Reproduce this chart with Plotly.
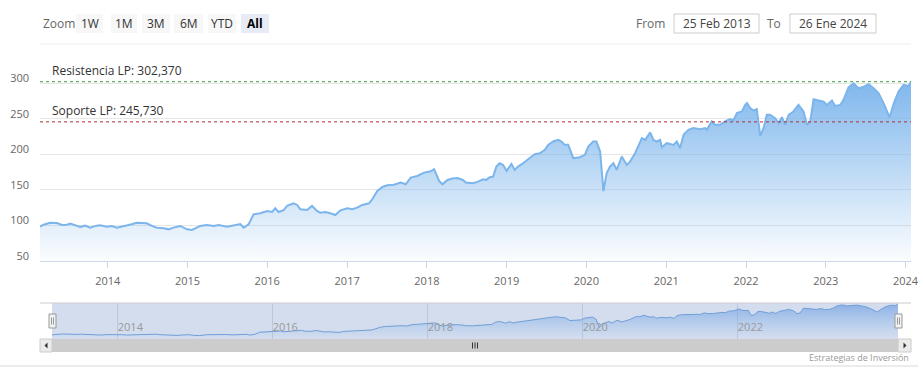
import plotly.graph_objects as go

# ---------------- data ----------------
dates = [
    "2013-02-25", "2013-03-13", "2013-04-12", "2013-05-13", "2013-06-05", "2013-06-28",
    "2013-07-13", "2013-08-05", "2013-08-28", "2013-09-20", "2013-10-12", "2013-11-12",
    "2013-11-27", "2013-12-28", "2014-01-20", "2014-02-12", "2014-03-07", "2014-03-30",
    "2014-04-21", "2014-05-14", "2014-05-30", "2014-06-29", "2014-07-22", "2014-08-14",
    "2014-09-14", "2014-10-07", "2014-10-29", "2014-11-29", "2014-12-30", "2015-01-22",
    "2015-02-28", "2015-03-31", "2015-05-01", "2015-05-23", "2015-07-01", "2015-07-31",
    "2015-08-31", "2015-09-15", "2015-10-08", "2015-10-31", "2015-11-30", "2016-01-01",
    "2016-01-23", "2016-02-07", "2016-02-22", "2016-03-16", "2016-04-01", "2016-05-01",
    "2016-05-17", "2016-06-01", "2016-07-01", "2016-07-24", "2016-08-16", "2016-08-31",
    "2016-09-23", "2016-10-16", "2016-11-08", "2016-12-01", "2017-01-02", "2017-01-24",
    "2017-02-16", "2017-03-11", "2017-04-11", "2017-04-26", "2017-05-19", "2017-06-11",
    "2017-07-04", "2017-08-03", "2017-09-03", "2017-09-26", "2017-10-19", "2017-11-18",
    "2017-12-19", "2018-01-18", "2018-02-03", "2018-02-26", "2018-03-13", "2018-04-05",
    "2018-04-28", "2018-05-21", "2018-06-15", "2018-06-28", "2018-07-31", "2018-08-23",
    "2018-09-15", "2018-09-30", "2018-10-16", "2018-10-31", "2018-11-15", "2018-11-30",
    "2018-12-16", "2019-01-01", "2019-01-23", "2019-02-07", "2019-02-22", "2019-03-17",
    "2019-04-17", "2019-05-10", "2019-06-02", "2019-06-25", "2019-07-10", "2019-08-02",
    "2019-08-25", "2019-09-09", "2019-09-24", "2019-10-10", "2019-11-02", "2019-12-02",
    "2019-12-25", "2020-01-10", "2020-02-01", "2020-02-16", "2020-03-04", "2020-03-19",
    "2020-04-03", "2020-04-18", "2020-05-04", "2020-05-19", "2020-06-11", "2020-07-04",
    "2020-07-19", "2020-08-11", "2020-09-11", "2020-09-26", "2020-10-19", "2020-11-03",
    "2020-11-18", "2020-12-04", "2020-12-11", "2021-01-03", "2021-02-03", "2021-02-18",
    "2021-03-05", "2021-03-21", "2021-04-12", "2021-05-05", "2021-06-05", "2021-06-28",
    "2021-07-05", "2021-07-28", "2021-08-12", "2021-09-04", "2021-09-27", "2021-10-20",
    "2021-11-04", "2021-11-20", "2021-12-13", "2021-12-28", "2022-01-05", "2022-01-20",
    "2022-02-04", "2022-02-19", "2022-03-07", "2022-03-22", "2022-04-06", "2022-04-21",
    "2022-05-14", "2022-05-30", "2022-06-14", "2022-06-29", "2022-07-15", "2022-08-06",
    "2022-08-29", "2022-09-21", "2022-10-07", "2022-10-22", "2022-11-06", "2022-11-29",
    "2022-12-22", "2023-01-06", "2023-01-29", "2023-02-13", "2023-03-08", "2023-03-23",
    "2023-04-15", "2023-05-08", "2023-05-31", "2023-06-23", "2023-07-16", "2023-08-08",
    "2023-08-31", "2023-09-23", "2023-10-20", "2023-11-08", "2023-11-30", "2023-12-23",
    "2024-01-15", "2024-01-26",
]
values = [
    98.0, 100.8, 103.6, 103.1, 100.3, 100.8,
    102.2, 100.3, 97.5, 99.4, 96.6, 99.4,
    99.9, 98.0, 99.0, 96.6, 98.0, 99.0,
    101.3, 103.6, 103.6, 102.7, 99.0, 96.6,
    95.7, 94.2, 96.6, 99.0, 94.2, 93.3,
    99.0, 100.3, 99.0, 100.3, 98.0, 99.9,
    101.7, 96.6, 101.3, 115.4, 116.8, 120.1,
    118.7, 123.9, 118.7, 121.1, 127.2, 130.9,
    128.6, 122.5, 121.5, 127.2, 120.1, 117.7,
    118.7, 116.8, 114.4, 121.1, 123.9, 122.5,
    124.8, 128.6, 130.9, 136.6, 148.3, 154.0,
    156.3, 157.2, 160.1, 157.7, 167.1, 169.5,
    174.2, 176.1, 178.9, 162.4, 157.7, 163.9,
    165.8, 166.5, 163.8, 160.1, 159.1, 161.5,
    164.8, 163.9, 167.6, 168.5, 182.7, 187.4,
    185.0, 176.6, 186.4, 178.0, 182.7, 187.4,
    194.5, 200.1, 201.5, 206.2, 213.3, 218.0,
    220.3, 218.0, 213.3, 213.3, 194.5, 195.9,
    199.2, 211.0, 218.0, 218.0, 203.9, 148.0,
    173.4, 182.7, 187.4, 178.0, 196.9, 185.0,
    189.7, 201.5, 222.7, 220.3, 230.7, 220.3,
    218.0, 220.3, 210.0, 215.7, 213.3, 218.0,
    208.6, 227.4, 234.5, 236.9, 235.5, 236.9,
    234.5, 246.3, 241.6, 241.6, 246.3, 249.6,
    247.7, 258.0, 260.4, 269.8, 272.2, 265.1,
    261.8, 263.7, 226.0, 236.9, 255.7, 255.7,
    251.0, 243.9, 252.4, 241.6, 255.7, 260.4,
    269.8, 260.4, 241.6, 246.3, 277.6, 275.7,
    274.3, 269.6, 275.7, 268.2, 269.6, 276.7,
    294.5, 300.1, 293.1, 295.4, 298.7, 293.1,
    286.0, 271.9, 252.0, 271.9, 288.4, 297.8,
    296.4, 302.5,
]

resistance_value = 302.37
support_value = 245.73
resistance_label = "Resistencia LP: 302,370"
support_label = "Soporte LP: 245,730"

year_ticks = ["2014-01-01", "2015-01-01", "2016-01-01", "2017-01-01", "2018-01-01",
              "2019-01-01", "2020-01-01", "2021-01-01", "2022-01-01", "2023-01-01",
              "2024-01-01"]
year_labels = ["2014", "2015", "2016", "2017", "2018", "2019", "2020", "2021",
               "2022", "2023", "2024"]
nav_ticks = ["2014-01-01", "2016-01-01", "2018-01-01", "2020-01-01", "2022-01-01"]
nav_labels = ["2014", "2016", "2018", "2020", "2022"]
y_ticks = [50, 100, 150, 200, 250, 300]

zoom_buttons = ["1W", "1M", "3M", "6M", "YTD", "All"]
selected_button = "All"
from_text = "25 Feb 2013"
to_text = "26 Ene 2024"
credits_text = "Estrategias de Inversión"

# ---------------- layout helpers ----------------
W, H = 918, 376
FONT = "Open Sans, DejaVu Sans, sans-serif"


def px(x):
    return x / W


def py(y):
    return 1 - y / H


fig = go.Figure()

# main area series
fig.add_trace(go.Scatter(
    x=dates, y=values, mode="lines",
    line=dict(color="#7cb5ec", width=2),
    fill="tozeroy",
    fillgradient=dict(
        type="vertical",
        colorscale=[[0, "rgba(124,181,236,0.03)"], [1, "rgba(124,181,236,1)"]],
        start=50, stop=310,
    ),
    hoverinfo="skip", showlegend=False,
))

# navigator series
fig.add_trace(go.Scatter(
    x=dates, y=values, mode="lines", xaxis="x2", yaxis="y2",
    line=dict(color="#6f9fd8", width=1),
    fill="tozeroy",
    fillgradient=dict(
        type="vertical",
        colorscale=[[0, "rgba(124,181,236,0.0)"], [1, "rgba(100,150,225,0.65)"]],
        start=70, stop=310,
    ),
    hoverinfo="skip", showlegend=False,
))

shapes = []
annotations = []

# plot lines (resistance / support)
for val, col in ((resistance_value, "#3c9a3c"), (support_value, "#b03030")):
    shapes.append(dict(type="line", xref="x domain", yref="y", x0=0, x1=1,
                       y0=val, y1=val, line=dict(color=col, width=1, dash="dot")))
annotations.append(dict(xref="paper", yref="y", x=px(50), y=resistance_value,
                        xanchor="left", yanchor="bottom", text=resistance_label,
                        showarrow=False, yshift=1,
                        font=dict(family=FONT, size=12, color="#333333")))
annotations.append(dict(xref="paper", yref="y", x=px(50), y=support_value,
                        xanchor="left", yanchor="bottom", text=support_label,
                        showarrow=False, yshift=1,
                        font=dict(family=FONT, size=12, color="#333333")))

# top separator line
shapes.append(dict(type="line", xref="paper", yref="paper", x0=px(40), x1=px(911),
                   y0=py(44), y1=py(44), line=dict(color="#eeeeee", width=1)))

# range selector (visual)
annotations.append(dict(xref="paper", yref="paper", x=px(41), y=py(23.5),
                        xanchor="left", yanchor="middle", text="Zoom", showarrow=False,
                        font=dict(family=FONT, size=12, color="#666666")))
btn_x = [(76, 103), (111, 137), (142, 170), (174, 203), (208, 236), (241, 269)]
for label, (x0, x1) in zip(zoom_buttons, btn_x):
    sel = label == selected_button
    shapes.append(dict(type="rect", xref="paper", yref="paper", x0=px(x0), x1=px(x1),
                       y0=py(33), y1=py(14),
                       fillcolor="#e6ebf5" if sel else "#f7f7f7", line=dict(width=0)))
    annotations.append(dict(xref="paper", yref="paper", x=px((x0 + x1) / 2), y=py(23.5),
                            xanchor="center", yanchor="middle",
                            text=f"<b>{label}</b>" if sel else label, showarrow=False,
                            font=dict(family=FONT, size=12,
                                      color="#000000" if sel else "#333333")))

# date inputs (visual)
annotations.append(dict(xref="paper", yref="paper", x=px(667), y=py(23.5),
                        xanchor="right", yanchor="middle", text="From", showarrow=False,
                        font=dict(family=FONT, size=12, color="#666666")))
annotations.append(dict(xref="paper", yref="paper", x=px(783), y=py(23.5),
                        xanchor="right", yanchor="middle", text="To", showarrow=False,
                        font=dict(family=FONT, size=12, color="#666666")))
for (x0, x1), txt in (((674, 759), from_text), ((790, 876), to_text)):
    shapes.append(dict(type="rect", xref="paper", yref="paper", x0=px(x0), x1=px(x1),
                       y0=py(33), y1=py(14), fillcolor="white",
                       line=dict(color="#cccccc", width=1)))
    annotations.append(dict(xref="paper", yref="paper", x=px((x0 + x1) / 2), y=py(23.5),
                            xanchor="center", yanchor="middle", text=txt, showarrow=False,
                            font=dict(family=FONT, size=12, color="#444444")))

# navigator mask + outline
shapes.append(dict(type="rect", xref="paper", yref="paper", x0=px(52), x1=px(898),
                   y0=py(339), y1=py(303), fillcolor="rgba(102,133,194,0.28)",
                   line=dict(width=0), layer="below"))
shapes.append(dict(type="line", xref="paper", yref="paper", x0=px(40), x1=px(911),
                   y0=py(303), y1=py(303), line=dict(color="#cccccc", width=1)))

# scrollbar
shapes.append(dict(type="rect", xref="paper", yref="paper", x0=px(40), x1=px(911),
                   y0=py(352), y1=py(339), fillcolor="#f2f2f2", line=dict(width=0)))
shapes.append(dict(type="rect", xref="paper", yref="paper", x0=px(52), x1=px(898),
                   y0=py(352), y1=py(339), fillcolor="#cccccc", line=dict(width=0)))
for x0, x1 in ((40, 52), (898, 911)):
    shapes.append(dict(type="rect", xref="paper", yref="paper", x0=px(x0), x1=px(x1),
                       y0=py(352), y1=py(339), fillcolor="#ebebeb",
                       line=dict(color="#cccccc", width=1)))
shapes.append(dict(type="path", xref="paper", yref="paper",
                   path=f"M {px(47.5)} {py(342.5)} L {px(44.5)} {py(345.5)} L {px(47.5)} {py(348.5)} Z",
                   fillcolor="#333333", line=dict(width=0)))
shapes.append(dict(type="path", xref="paper", yref="paper",
                   path=f"M {px(903.5)} {py(342.5)} L {px(906.5)} {py(345.5)} L {px(903.5)} {py(348.5)} Z",
                   fillcolor="#333333", line=dict(width=0)))
for gx in (472.5, 475, 477.5):
    shapes.append(dict(type="line", xref="paper", yref="paper", x0=px(gx), x1=px(gx),
                       y0=py(342.5), y1=py(348.5), line=dict(color="#333333", width=1)))

# navigator handles
for hx in (52.5, 898.5):
    shapes.append(dict(type="rect", xref="paper", yref="paper", x0=px(hx - 3.5),
                       x1=px(hx + 3.5), y0=py(328), y1=py(314), fillcolor="#f2f2f2",
                       line=dict(color="#999999", width=1)))
    for lx in (hx - 1, hx + 1):
        shapes.append(dict(type="line", xref="paper", yref="paper", x0=px(lx), x1=px(lx),
                           y0=py(317.5), y1=py(324.5), line=dict(color="#999999", width=1)))

# credits + bottom line
annotations.append(dict(xref="paper", yref="paper", x=px(911), y=py(357.5),
                        xanchor="right", yanchor="middle", text=credits_text,
                        showarrow=False, font=dict(family=FONT, size=9, color="#999999")))
shapes.append(dict(type="line", xref="paper", yref="paper", x0=0, x1=1,
                   y0=py(366), y1=py(366), line=dict(color="#d8d8d8", width=1)))

fig.update_layout(
    width=W, height=H,
    margin=dict(l=0, r=0, t=0, b=0, autoexpand=False),
    paper_bgcolor="white", plot_bgcolor="rgba(0,0,0,0)",
    font=dict(family=FONT, size=11, color="#666666"),
    showlegend=False,
    xaxis=dict(
        domain=[px(40), px(911)], range=[dates[0], dates[-1]], type="date",
        tickvals=year_ticks, ticktext=year_labels,
        showgrid=False, showline=True, linecolor="#ccd6eb", linewidth=1,
        ticks="outside", ticklen=6, tickcolor="#ccd6eb", ticklabelstandoff=4,
        ticklabeloverflow="allow", automargin=False,
        tickfont=dict(family=FONT, size=11, color="#666666"),
        fixedrange=True, anchor="y",
    ),
    yaxis=dict(
        domain=[py(260.7), py(44)], range=[50, 355.5],
        tickvals=y_ticks, showgrid=True, gridcolor="#e6e6e6", gridwidth=1,
        zeroline=False, showline=False, ticks="",
        ticklabelstandoff=10, ticklabelshift=-5, automargin=False,
        tickfont=dict(family=FONT, size=11, color="#666666"),
        fixedrange=True, anchor="x",
    ),
    xaxis2=dict(
        domain=[px(52), px(898)], range=[dates[0], dates[-1]], type="date",
        tickvals=nav_ticks, ticktext=nav_labels,
        showgrid=True, gridcolor="rgba(170,180,200,0.55)", showline=False,
        ticks="", ticklabelposition="inside right", automargin=False,
        tickfont=dict(family=FONT, size=11, color="#999999"),
        fixedrange=True, anchor="y2",
    ),
    yaxis2=dict(
        domain=[py(339), py(303)], range=[70, 313], automargin=False,
        showgrid=False, showticklabels=False, zeroline=False, showline=False,
        fixedrange=True, anchor="x2",
    ),
    shapes=shapes,
    annotations=annotations,
)

fig.write_html("out.html", config={"displayModeBar": False, "staticPlot": True})
